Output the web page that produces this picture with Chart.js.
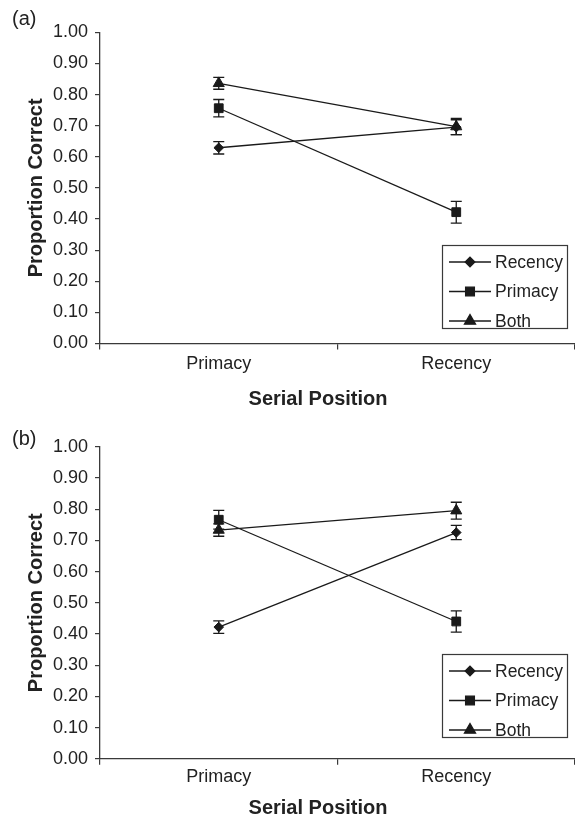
<!DOCTYPE html>
<html>
<head>
<meta charset="utf-8">
<script src="https://cdn.jsdelivr.net/npm/chart.js@4.4.0/dist/chart.umd.min.js"></script>
<style>
    html, body { margin: 0; padding: 0; background: #fff; }
    .panel { width: 575px; height: 409px; }
    canvas { display: block; }
</style>
</head>
<body>
<div class="panel"><canvas id="chartA" width="575" height="409"></canvas></div>
<div class="panel"><canvas id="chartB" width="575" height="409"></canvas></div>
<script>
var categories = ['Primacy', 'Recency'];
var seriesNames = ['Recency', 'Primacy', 'Both'];
var markerStyles = ['rectRot', 'rect', 'triangle'];

// panel (a)
var aRecency = [0.629, 0.695];
var aPrimacy = [0.756, 0.422];
var aBoth = [0.836, 0.697];
var aRecencyErr = [0.020, 0.024];
var aPrimacyErr = [0.028, 0.035];
var aBothErr = [0.019, 0.026];

// panel (b)
var bRecency = [0.422, 0.725];
var bPrimacy = [0.766, 0.440];
var bBoth = [0.733, 0.795];
var bRecencyErr = [0.020, 0.023];
var bPrimacyErr = [0.030, 0.034];
var bBothErr = [0.020, 0.027];

var ink = '#1a1a1a';
var axisColor = '#3a3a3a';
var fontFamily = '"Liberation Sans", Arial, Helvetica, sans-serif';
var markerRadius = { rectRot: 4.8, rect: 6.2, triangle: 6.4 };

Chart.defaults.font.family = fontFamily;
Chart.defaults.color = '#222';

function drawMarker(ctx, style, x, y) {
    ctx.fillStyle = ink;
    ctx.strokeStyle = ink;
    if (Chart.helpers && Chart.helpers.drawPoint) {
        Chart.helpers.drawPoint(ctx, {pointStyle: style, radius: markerRadius[style], rotation: 0, borderWidth: 1}, x, y);
        return;
    }
    var r = markerRadius[style];
    ctx.beginPath();
    if (style === 'rect') {
        var s = r * Math.SQRT1_2;
        ctx.rect(x - s, y - s, 2 * s, 2 * s);
    } else if (style === 'rectRot') {
        ctx.moveTo(x, y - r); ctx.lineTo(x + r, y); ctx.lineTo(x, y + r); ctx.lineTo(x - r, y);
        ctx.closePath();
    } else {
        ctx.moveTo(x, y - r);
        ctx.lineTo(x + r * 0.866, y + r / 2);
        ctx.lineTo(x - r * 0.866, y + r / 2);
        ctx.closePath();
    }
    ctx.fill();
    ctx.stroke();
}

// vertical error bars with caps, drawn through the y scale
var errorBars = {
    id: 'errorBars',
    afterDatasetsDraw: function(chart) {
        var ctx = chart.ctx;
        var yScale = chart.scales.y;
        ctx.save();
        ctx.strokeStyle = ink;
        ctx.lineWidth = 1.3;
        chart.data.datasets.forEach(function(ds, i) {
            var meta = chart.getDatasetMeta(i);
            meta.data.forEach(function(pt, j) {
                var v = ds.data[j];
                var e = ds.errors[j];
                var top = yScale.getPixelForValue(v + e);
                var bot = yScale.getPixelForValue(v - e);
                ctx.beginPath();
                ctx.moveTo(pt.x, top); ctx.lineTo(pt.x, bot);
                ctx.moveTo(pt.x - 5.5, top); ctx.lineTo(pt.x + 5.5, top);
                ctx.moveTo(pt.x - 5.5, bot); ctx.lineTo(pt.x + 5.5, bot);
                ctx.stroke();
            });
        });
        ctx.restore();
    }
};

// legend box inside the plot, panel letter and x axis title
var panelExtras = {
    id: 'panelExtras',
    afterDraw: function(chart) {
        var ctx = chart.ctx;
        var o = chart.options.plugins.panelExtras;
        ctx.save();

        // legend
        var lx = 442, ly = 245, lw = 125, lh = 83;
        ctx.fillStyle = '#fff';
        ctx.fillRect(lx, ly, lw, lh);
        ctx.strokeStyle = axisColor;
        ctx.lineWidth = 1.2;
        ctx.strokeRect(lx + 0.5, ly + 0.5, lw, lh);
        var rows = [17, 46.5, 76];
        chart.data.datasets.forEach(function(ds, i) {
            var ry = ly + rows[i];
            ctx.strokeStyle = ink;
            ctx.lineWidth = 1.3;
            ctx.beginPath();
            ctx.moveTo(lx + 7, ry);
            ctx.lineTo(lx + 49, ry);
            ctx.stroke();
            drawMarker(ctx, ds.pointStyle, lx + 28, ry);
            ctx.fillStyle = '#222';
            ctx.font = '17.5px ' + fontFamily;
            ctx.textAlign = 'left';
            ctx.textBaseline = 'middle';
            ctx.fillText(ds.label, lx + 53, ry + 1);
        });

        // panel letter
        ctx.fillStyle = '#222';
        ctx.font = '20px ' + fontFamily;
        ctx.textAlign = 'left';
        ctx.textBaseline = 'middle';
        ctx.fillText(o.letter, 12, o.letterY);

        // x axis title
        ctx.font = 'bold 20px ' + fontFamily;
        ctx.textAlign = 'center';
        ctx.textBaseline = 'alphabetic';
        ctx.fillText('Serial Position', 318, 405);
        ctx.restore();
    }
};

function makePanel(canvasId, letter, recency, primacy, both, recErr, priErr, bothErr, lay) {
    var values = [recency, primacy, both];
    var errs = [recErr, priErr, bothErr];
    var datasets = seriesNames.map(function(name, i) {
        return {
            label: name,
            data: values[i],
            errors: errs[i],
            borderColor: ink,
            backgroundColor: ink,
            borderWidth: 1.3,
            pointStyle: markerStyles[i],
            pointRadius: markerRadius[markerStyles[i]],
            pointBorderWidth: 1,
            pointHoverRadius: markerRadius[markerStyles[i]],
            tension: 0,
            fill: false
        };
    });

    return new Chart(document.getElementById(canvasId).getContext('2d'), {
        type: 'line',
        data: { labels: categories, datasets: datasets },
        plugins: [errorBars, panelExtras],
        options: {
            responsive: false,
            animation: false,
            devicePixelRatio: 1,
            layout: { autoPadding: false, padding: { top: lay.top, left: 0, right: 0, bottom: 0 } },
            plugins: {
                legend: { display: false },
                tooltip: { enabled: false },
                panelExtras: { letter: letter, letterY: lay.letterY }
            },
            scales: {
                x: {
                    type: 'category',
                    offset: true,
                    grid: { offset: true, drawOnChartArea: false, tickLength: 6, color: axisColor, lineWidth: 1.2 },
                    border: { display: true, color: axisColor, width: 1.3 },
                    ticks: { padding: lay.tickPad, maxRotation: 0, font: { size: 18 }, color: '#222' },
                    afterFit: function(scale) {
                        scale.height = 409 - lay.bottom;
                        scale.paddingLeft = 0;
                        scale.paddingRight = 0;
                    }
                },
                y: {
                    min: 0,
                    max: 1,
                    grid: { drawOnChartArea: false, tickLength: 5, color: axisColor, lineWidth: 1.2 },
                    border: { display: true, color: axisColor, width: 1.3 },
                    ticks: {
                        stepSize: 0.1,
                        padding: 7,
                        font: { size: 18 },
                        color: '#222',
                        callback: function(v) { return Number(v).toFixed(2); }
                    },
                    title: {
                        display: true,
                        text: 'Proportion Correct',
                        font: { size: 20, weight: 'bold' },
                        color: '#222',
                        padding: { top: 24, bottom: 0 }
                    },
                    afterFit: function(scale) {
                        scale.width = 100;
                        scale.paddingTop = 0;
                        scale.paddingBottom = 0;
                    }
                }
            }
        }
    });
}

window.chartA = makePanel('chartA', '(a)', aRecency, aPrimacy, aBoth, aRecencyErr, aPrimacyErr, aBothErr,
    { top: 32.3, bottom: 343.5, letterY: 19.5, tickPad: 4 });
window.chartB = makePanel('chartB', '(b)', bRecency, bPrimacy, bBoth, bRecencyErr, bPrimacyErr, bBothErr,
    { top: 37.7, bottom: 349.8, letterY: 30, tickPad: 1 });
</script>
</body>
</html>
